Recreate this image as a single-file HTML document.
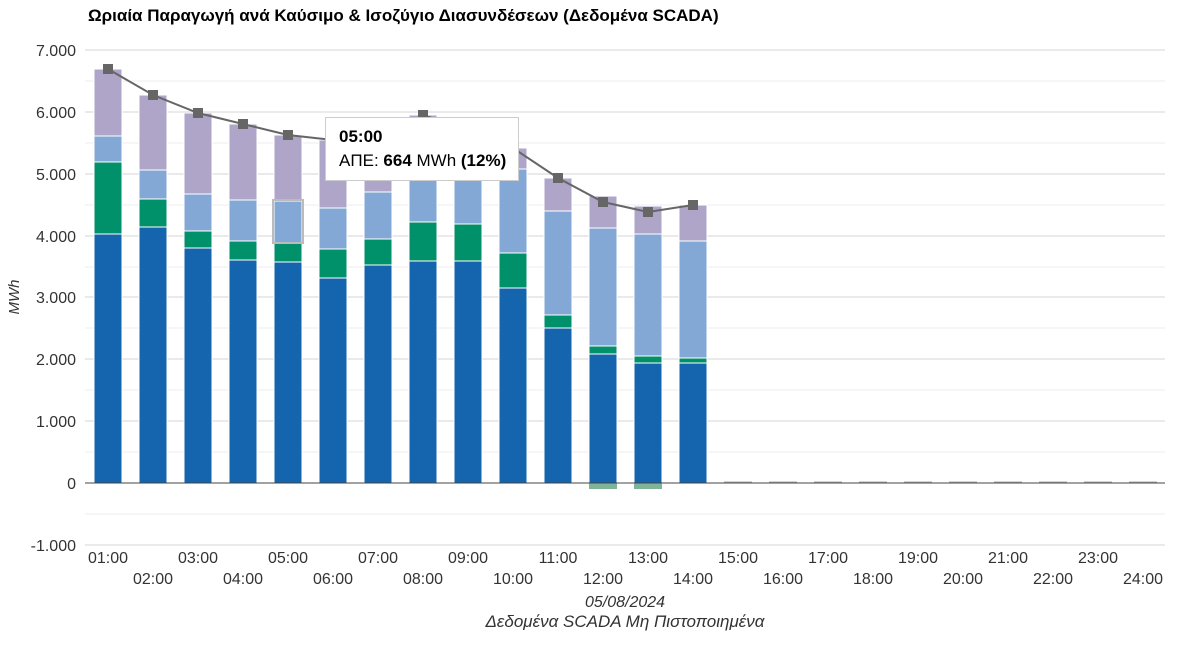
<!DOCTYPE html>
<html><head><meta charset="utf-8"><style>body{margin:0;background:#fff}svg{display:block;font-family:"Liberation Sans",Arial,sans-serif}</style></head><body>
<svg width="1177" height="666" xmlns="http://www.w3.org/2000/svg">
<text x="88" y="21" font-size="17" font-weight="bold" fill="#000">Ωριαία Παραγωγή ανά Καύσιμο &amp; Ισοζύγιο Διασυνδέσεων (Δεδομένα SCADA)</text>
<g stroke="#eeeeee" stroke-width="1">
<line x1="85" x2="1165" y1="81" y2="81"/><line x1="85" x2="1165" y1="143" y2="143"/><line x1="85" x2="1165" y1="205" y2="205"/><line x1="85" x2="1165" y1="267" y2="267"/><line x1="85" x2="1165" y1="328" y2="328"/><line x1="85" x2="1165" y1="390" y2="390"/><line x1="85" x2="1165" y1="452" y2="452"/><line x1="85" x2="1165" y1="514" y2="514"/>
</g>
<g stroke="#d6d6d6" stroke-width="1">
<line x1="85" x2="1165" y1="50" y2="50"/><line x1="85" x2="1165" y1="112" y2="112"/><line x1="85" x2="1165" y1="174" y2="174"/><line x1="85" x2="1165" y1="236" y2="236"/><line x1="85" x2="1165" y1="297" y2="297"/><line x1="85" x2="1165" y1="359" y2="359"/><line x1="85" x2="1165" y1="421" y2="421"/><line x1="85" x2="1165" y1="545" y2="545"/>
</g>
<g font-size="16" fill="#333" text-anchor="end">
<text x="76" y="56">7.000</text><text x="76" y="118">6.000</text><text x="76" y="180">5.000</text><text x="76" y="242">4.000</text><text x="76" y="303">3.000</text><text x="76" y="365">2.000</text><text x="76" y="427">1.000</text><text x="76" y="489">0</text><text x="76" y="551">-1.000</text>
</g>
<text transform="translate(19,297) rotate(-90)" font-size="15" font-style="italic" text-anchor="middle" fill="#333">MWh</text>
<g stroke="#fff" stroke-width="1">
<g fill="#1464ae">
<rect x="94" y="234" width="28" height="249"/><rect x="139" y="227" width="28" height="256"/><rect x="184" y="248" width="28" height="235"/><rect x="229" y="260" width="28" height="223"/><rect x="274" y="262" width="28" height="221"/><rect x="319" y="278" width="28" height="205"/><rect x="364" y="265" width="28" height="218"/><rect x="409" y="261" width="28" height="222"/><rect x="454" y="261" width="28" height="222"/><rect x="499" y="288" width="28" height="195"/><rect x="544" y="328" width="28" height="155"/><rect x="589" y="354" width="28" height="129"/><rect x="634" y="363" width="28" height="120"/><rect x="679" y="363" width="28" height="120"/>
</g>
<g fill="#00916a">
<rect x="94" y="162" width="28" height="72"/><rect x="139" y="199" width="28" height="28"/><rect x="184" y="231" width="28" height="17"/><rect x="229" y="241" width="28" height="19"/><rect x="274" y="243" width="28" height="19"/><rect x="319" y="249" width="28" height="29"/><rect x="364" y="239" width="28" height="26"/><rect x="409" y="222" width="28" height="39"/><rect x="454" y="224" width="28" height="37"/><rect x="499" y="253" width="28" height="35"/><rect x="544" y="315" width="28" height="13"/><rect x="589" y="346" width="28" height="8"/><rect x="634" y="356" width="28" height="7"/><rect x="679" y="358" width="28" height="5"/>
</g>
<g fill="#84a8d6">
<rect x="94" y="136" width="28" height="26"/><rect x="139" y="170" width="28" height="29"/><rect x="184" y="194" width="28" height="37"/><rect x="229" y="200" width="28" height="41"/><rect x="274" y="201" width="28" height="42"/><rect x="319" y="208" width="28" height="41"/><rect x="364" y="192" width="28" height="47"/><rect x="409" y="180" width="28" height="42"/><rect x="454" y="180" width="28" height="44"/><rect x="499" y="169" width="28" height="84"/><rect x="544" y="211" width="28" height="104"/><rect x="589" y="228" width="28" height="118"/><rect x="634" y="234" width="28" height="122"/><rect x="679" y="241" width="28" height="117"/>
</g>
<g fill="#afa5c8">
<rect x="94" y="69" width="28" height="67"/><rect x="139" y="95" width="28" height="75"/><rect x="184" y="113" width="28" height="81"/><rect x="229" y="124" width="28" height="76"/><rect x="274" y="135" width="28" height="66"/><rect x="319" y="140" width="28" height="68"/><rect x="364" y="150" width="28" height="42"/><rect x="409" y="115" width="28" height="65"/><rect x="454" y="130" width="28" height="50"/><rect x="499" y="148" width="28" height="21"/><rect x="544" y="178" width="28" height="33"/><rect x="589" y="196" width="28" height="32"/><rect x="634" y="206" width="28" height="28"/><rect x="679" y="205" width="28" height="36"/>
</g>
</g>
<rect x="589" y="483" width="28" height="6" fill="#7fb499"/><rect x="634" y="483" width="28" height="6" fill="#7fb499"/>
<g stroke="#aaa"><line x1="724" x2="752" y1="482" y2="482"/><line x1="769" x2="797" y1="482" y2="482"/><line x1="814" x2="842" y1="482" y2="482"/><line x1="859" x2="887" y1="482" y2="482"/><line x1="904" x2="932" y1="482" y2="482"/><line x1="949" x2="977" y1="482" y2="482"/><line x1="994" x2="1022" y1="482" y2="482"/><line x1="1039" x2="1067" y1="482" y2="482"/><line x1="1084" x2="1112" y1="482" y2="482"/><line x1="1129" x2="1157" y1="482" y2="482"/></g>
<rect x="273" y="200" width="30" height="43" fill="none" stroke="#bbb" stroke-width="2"/>
<line x1="85" x2="1165" y1="483" y2="483" stroke="#444" stroke-width="1"/>
<polyline points="108,69 153,95 198,113 243,124 288,135 333,140 378,150 423,115 468,130 513,148 558,178 603,202 648,212 693,205" fill="none" stroke="#666" stroke-width="2"/>
<g fill="#666">
<rect x="103" y="64" width="10" height="10"/><rect x="148" y="90" width="10" height="10"/><rect x="193" y="108" width="10" height="10"/><rect x="238" y="119" width="10" height="10"/><rect x="283" y="130" width="10" height="10"/><rect x="328" y="135" width="10" height="10"/><rect x="373" y="145" width="10" height="10"/><rect x="418" y="110" width="10" height="10"/><rect x="463" y="125" width="10" height="10"/><rect x="508" y="143" width="10" height="10"/><rect x="553" y="173" width="10" height="10"/><rect x="598" y="197" width="10" height="10"/><rect x="643" y="207" width="10" height="10"/><rect x="688" y="200" width="10" height="10"/>
</g>
<g font-size="16" fill="#333" text-anchor="middle">
<text x="108" y="563">01:00</text><text x="153" y="584">02:00</text><text x="198" y="563">03:00</text><text x="243" y="584">04:00</text><text x="288" y="563">05:00</text><text x="333" y="584">06:00</text><text x="378" y="563">07:00</text><text x="423" y="584">08:00</text><text x="468" y="563">09:00</text><text x="513" y="584">10:00</text><text x="558" y="563">11:00</text><text x="603" y="584">12:00</text><text x="648" y="563">13:00</text><text x="693" y="584">14:00</text><text x="738" y="563">15:00</text><text x="783" y="584">16:00</text><text x="828" y="563">17:00</text><text x="873" y="584">18:00</text><text x="918" y="563">19:00</text><text x="963" y="584">20:00</text><text x="1008" y="563">21:00</text><text x="1053" y="584">22:00</text><text x="1098" y="563">23:00</text><text x="1143" y="584">24:00</text>
</g>
<text x="625" y="607" font-size="16" font-style="italic" text-anchor="middle" fill="#333">05/08/2024</text>
<text x="625" y="627" font-size="17" font-style="italic" text-anchor="middle" fill="#333">Δεδομένα SCADA Μη Πιστοποιημένα</text>
<rect x="325.5" y="117.5" width="193" height="63" fill="#fff" stroke="#ccc"/>
<text x="339" y="142" font-size="17" font-weight="bold" fill="#000">05:00</text>
<text x="339" y="166" font-size="17" fill="#000">ΑΠΕ: <tspan font-weight="bold">664</tspan> MWh <tspan font-weight="bold">(12%)</tspan></text>
</svg>
</body></html>
